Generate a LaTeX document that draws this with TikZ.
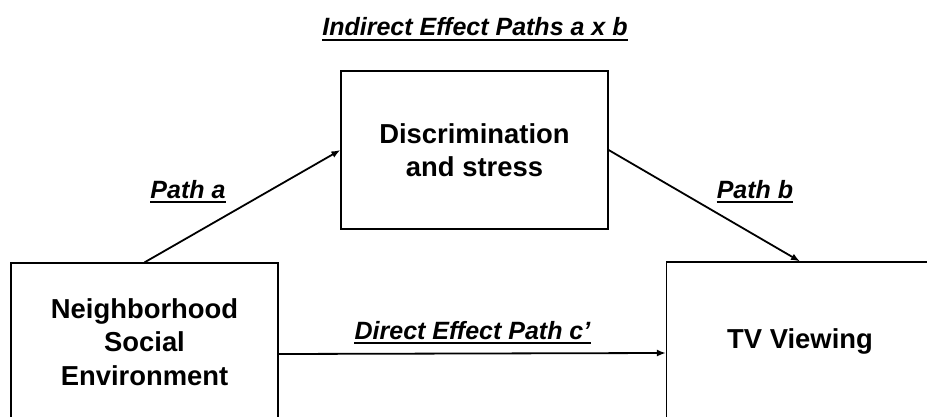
\documentclass[tikz,border=0pt]{standalone}
\usepackage{fontspec}
\setmainfont{Liberation Sans}
\usetikzlibrary{arrows.meta}

\begin{document}
\begin{tikzpicture}[x=1pt, y=1pt,
	box/.style={draw, line width=1.2pt, minimum width=267pt, minimum height=158pt, align=center, font=\fontsize{27.4}{33.5}\selectfont\bfseries},
	lbl/.style={inner sep=0pt, anchor=base, font=\fontsize{25}{30}\selectfont\bfseries\itshape},
	arr/.style={line width=1.8pt, -{Latex[length=9pt, width=7pt]}}]
%frame
	\useasboundingbox (0,0) rectangle (927,416);
	\clip (0,0) rectangle (927,416);

%boxes
	\node[box] (nse) at (144.5, 74) {Neighborhood\\Social\\Environment};
	\node[box] (disc) at (474.5, 266) {Discrimination\\and stress};
	\node[box] (tv) at (800, 75) {TV Viewing};

%labels
	\node[lbl] (title) at (475, 380) {Indirect Effect Paths a x b};
	\node[lbl] (patha) at (188, 218) {Path a};
	\node[lbl] (pathb) at (755, 218) {Path b};
	\node[lbl] (direct) at (472.5, 77) {Direct Effect Path c'};

%arrows
	\draw[arr] (nse.north) -- (disc.west);
	\draw[arr] (disc.east) -- (tv.north);
	\draw[arr] ([yshift=-12pt]nse.east) -- ([yshift=-12pt]tv.west);

%underlines
	\foreach \name in {title, patha, pathb, direct}{
		\draw[line width=1.8pt] ([yshift=-4pt]\name.base west) -- ([yshift=-4pt]\name.base east);
	}
\end{tikzpicture}
\end{document}
